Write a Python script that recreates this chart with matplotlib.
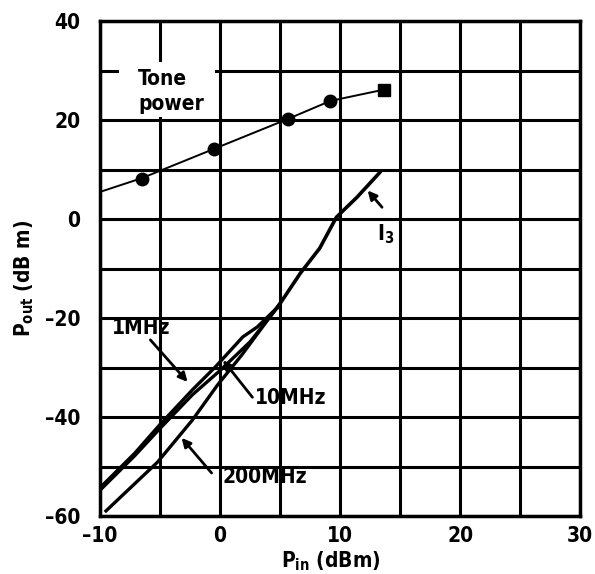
import matplotlib
matplotlib.use('Agg')
import matplotlib.pyplot as plt
from matplotlib.patches import Rectangle

# tone power (fundamental)
tone_pin = [-6.5, -0.5, 5.7, 9.2]
tone_pout = [8.2, 14.2, 20.3, 23.9]
tone_last_pin = [13.7]
tone_last_pout = [26.2]
tone_line_pin = [-10, -6.5, -0.5, 5.7, 9.2, 13.7]
tone_line_pout = [5.5, 8.3, 14.2, 20.3, 23.9, 26.2]

# I3 curves, lower parts
pin_1mhz = [-10, -7.1, -5, -2.3, -0.4, 1.9, 3.1, 4.8]
pout_1mhz = [-54.3, -47.3, -41.5, -34.5, -29.9, -23.8, -21.8, -17.8]
pin_10mhz = [-10, -7.1, -5, -2.3, 0, 2.5, 4.8]
pout_10mhz = [-54.8, -47.8, -42.3, -35.5, -30.6, -24.8, -17.8]
pin_200mhz = [-9.6, -5.2, -2.3, -0.2, 1.8, 5.0]
pout_200mhz = [-59.2, -49.1, -40.6, -33.5, -27.5, -17.0]
# common upper part
pin_hi = [4.8, 6.7, 8.3, 9.7, 11.4, 13.3]
pout_hi = [-17.8, -10.9, -5.9, 0.4, 4.4, 9.4]

xticks = [-10, 0, 10, 20, 30]
yticks = [-60, -40, -20, 0, 20, 40]

MFONT = 'DejaVu Sans:weight=bold:stretch=condensed'
plt.rcParams['font.family'] = ['DejaVu Sans']
plt.rcParams['font.weight'] = 'bold'
plt.rcParams['font.stretch'] = 'condensed'
plt.rcParams['mathtext.fontset'] = 'custom'
plt.rcParams['mathtext.rm'] = MFONT
plt.rcParams['mathtext.it'] = MFONT
plt.rcParams['mathtext.bf'] = MFONT
FS = 15

fig = plt.figure(figsize=(5.95, 5.74), dpi=100)
ax = fig.add_axes([0.168, 0.101, 0.807, 0.862])

ax.set_xlim(-10, 30)
ax.set_ylim(-60, 40)
ax.set_xticks(xticks)
ax.set_xticks(range(-5, 30, 10), minor=True)
ax.set_yticks(yticks)
ax.set_yticks(range(-50, 40, 20), minor=True)
ax.set_xticklabels([str(v).replace('-', '\u2013') for v in xticks])
ax.set_yticklabels([str(v).replace('-', '\u2013') for v in yticks])
ax.tick_params(which='both', length=0, labelsize=FS)
ax.tick_params(axis='x', pad=7)
ax.tick_params(axis='y', pad=14)
ax.grid(which='both', color='black', lw=2.2, zorder=0)
ax.set_axisbelow(True)
for s in ax.spines.values():
    s.set_linewidth(2.5)

# white box behind the tone label (breaks the grid there)
ax.add_patch(Rectangle((-8.4, 20.7), 8.0, 11.0, facecolor='white',
                       edgecolor='none', zorder=1.5))
ax.text(-6.8, 25.8, 'Tone\npower', fontsize=FS, fontweight='bold',
        ha='left', va='center', linespacing=1.3, zorder=3)

ax.plot(tone_line_pin, tone_line_pout, color='black', lw=1.4, zorder=3)
ax.plot(tone_pin, tone_pout, 'o', color='black', ms=9, zorder=4)
ax.plot(tone_last_pin, tone_last_pout, 's', color='black', ms=8.5, zorder=4)

for px, py in [(pin_1mhz, pout_1mhz), (pin_10mhz, pout_10mhz),
               (pin_200mhz, pout_200mhz)]:
    ax.plot(px, py, color='black', lw=2.4, zorder=3, solid_capstyle='butt')
ax.plot(pin_hi, pout_hi, color='black', lw=2.6, zorder=3)

arr = dict(arrowstyle='-|>', color='black', lw=2, mutation_scale=13,
           shrinkA=0, shrinkB=0)
ax.annotate('', xy=(-2.7, -32.9), xytext=(-5.8, -24.4), arrowprops=arr, zorder=5)
ax.text(-6.6, -22, '1MHz', fontsize=FS, ha='center', va='center', zorder=5)
ax.annotate('', xy=(0.25, -28.5), xytext=(2.7, -36), arrowprops=arr, zorder=5)
ax.text(2.9, -36.2, '10MHz', fontsize=FS, ha='left', va='center', zorder=5)
ax.annotate('', xy=(-3.2, -44.2), xytext=(-0.7, -51.3), arrowprops=arr, zorder=5)
ax.text(0.2, -52.1, '200MHz', fontsize=FS, ha='left', va='center', zorder=5)
ax.annotate('', xy=(12.3, 5.8), xytext=(13.5, 2.4), arrowprops=arr, zorder=5)
ax.text(13.1, -3.0, r'$\mathrm{I_3}$', fontsize=FS, ha='left', va='center', zorder=5)

ax.set_xlabel(r'$\mathrm{P_{in}}$ (dBm)', fontsize=FS, fontweight='bold')
ax.xaxis.label.set_va('baseline')
ax.xaxis.set_label_coords(0.48, -0.104)
ax.set_ylabel(r'$\mathrm{P_{out}}$ (dB m)', fontsize=FS, fontweight='bold')
ax.yaxis.label.set_va('center')
ax.yaxis.set_label_coords(-0.158, 0.48)

fig.savefig('out.png', dpi=100)
